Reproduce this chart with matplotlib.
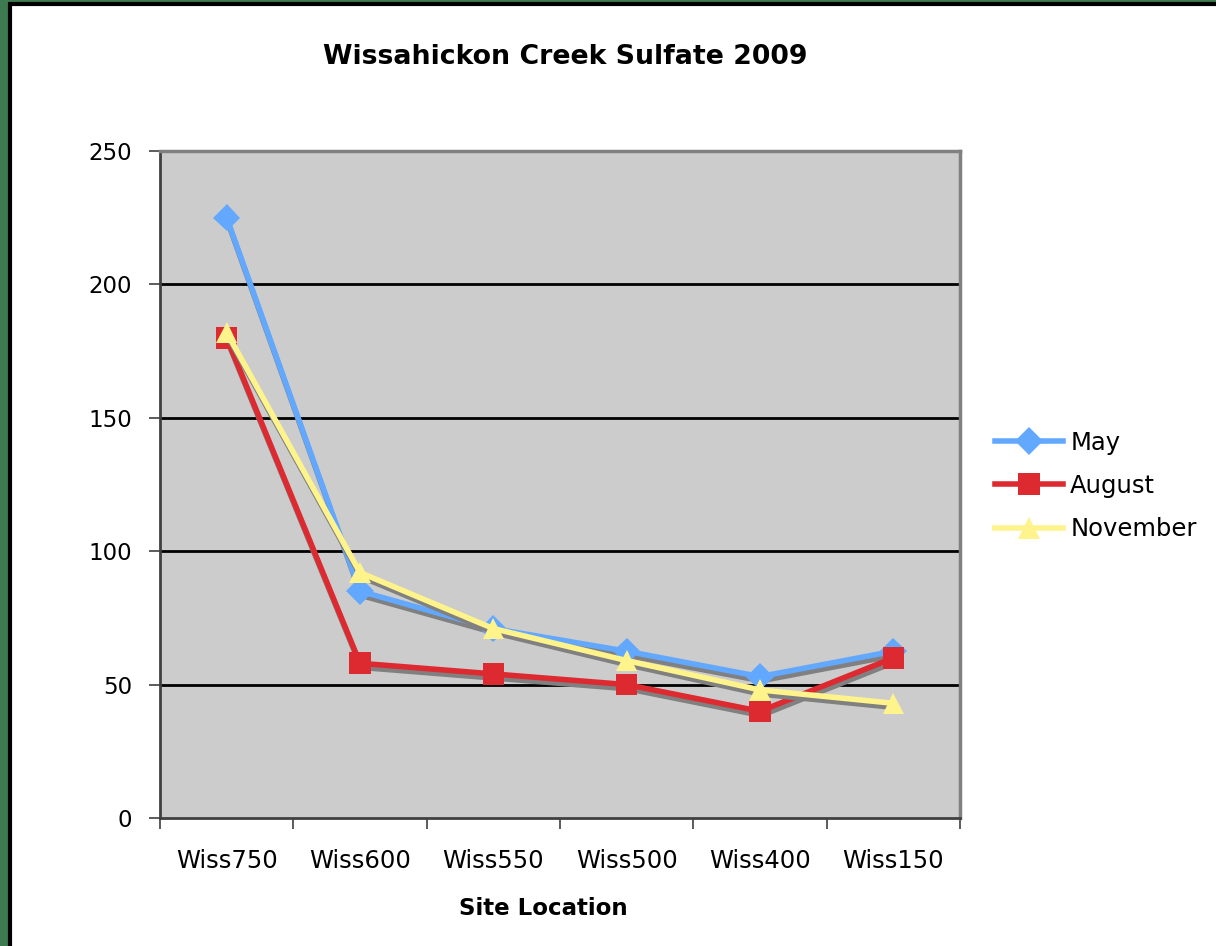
import matplotlib
matplotlib.use("Agg")
import matplotlib.pyplot as plt
import matplotlib.patheffects as pe
from matplotlib.patches import Rectangle

sites = ["Wiss750", "Wiss600", "Wiss550", "Wiss500", "Wiss400", "Wiss150"]
may = [225, 85, 71, 62.5, 53, 62.5]
august = [180, 58, 54, 50, 40, 60]
november = [182, 92, 71, 59, 48, 43]
yticks = [0, 50, 100, 150, 200, 250]

plt.rcParams['font.family'] = ['DejaVu Sans']

fig = plt.figure(figsize=(12.16, 9.46), dpi=100)
fig.patch.set_facecolor("#3d7a4f")
bg = Rectangle((10/1216, -0.01), 1 - 10/1216 + 0.02, 1 - 4/946 + 0.01, transform=fig.transFigure,
               facecolor="white", edgecolor="black", linewidth=3, zorder=-10)
fig.patches.append(bg)

ax = fig.add_axes([160/1216, 1 - 818/946, 800/1216, 667/946])
ax.set_zorder(1)
ax.set_facecolor("#cccccc")

x = list(range(len(sites)))
shadow = [pe.SimpleLineShadow(offset=(0.8, -3.0), shadow_color="#808080", alpha=1.0), pe.Normal()]

series = [
    ("May", may, "#63a8ff", "D", 14),
    ("August", august, "#dc2a30", "s", 15.5),
    ("November", november, "#fff38c", "^", 15.5),
]
handles = []
for name, vals, col, mk, ms in series:
    ln, = ax.plot(x, vals, color=col, lw=4, marker=mk, markersize=ms,
                  markeredgewidth=0, zorder=3, path_effects=shadow, label=name)
    handles.append(ln)

ax.set_xlim(-0.5, 5.5)
ax.set_ylim(0, 250)
ax.set_yticks(yticks)
ax.set_yticklabels([str(v) for v in yticks], fontsize=16.5)
ax.set_xticks([i - 0.5 for i in range(len(sites) + 1)])
ax.set_xticklabels([])
ax.set_xticks(x, minor=True)
ax.set_xticklabels(sites, minor=True, fontsize=17.5)
ax.tick_params(axis="x", which="minor", length=0, pad=22)
ax.tick_params(axis="x", which="major", length=8, width=1.2, color="#404040", direction="out")
ax.tick_params(axis="y", length=8, width=1.2, color="#404040", pad=12)

for v in yticks[1:-1]:
    ax.axhline(v, color="black", lw=2, zorder=1)

ax.spines["left"].set_color("#404040")
ax.spines["left"].set_linewidth(2)
ax.spines["bottom"].set_color("#404040")
ax.spines["bottom"].set_linewidth(2)
ax.spines["top"].set_color("#808080")
ax.spines["top"].set_linewidth(2.5)
ax.spines["right"].set_color("#808080")
ax.spines["right"].set_linewidth(2.5)

fig.text(565/1216, 1 - 57/946, "Wissahickon Creek Sulfate 2009", ha="center", va="center",
         fontsize=19.3, fontweight="bold")
fig.text(543/1216, 1 - 908/946, "Site Location", ha="center", va="center",
         fontsize=16.5, fontweight="bold")

leg = fig.legend(handles=handles, loc="center left", bbox_to_anchor=(973/1216, 1 - 486/946),
                 frameon=False, fontsize=17.5, handlelength=2.8, labelspacing=0.8,
                 handletextpad=0.3)
for h in leg.legend_handles:
    h.set_path_effects([])

fig.savefig("out.png", dpi=100, facecolor=fig.get_facecolor())
